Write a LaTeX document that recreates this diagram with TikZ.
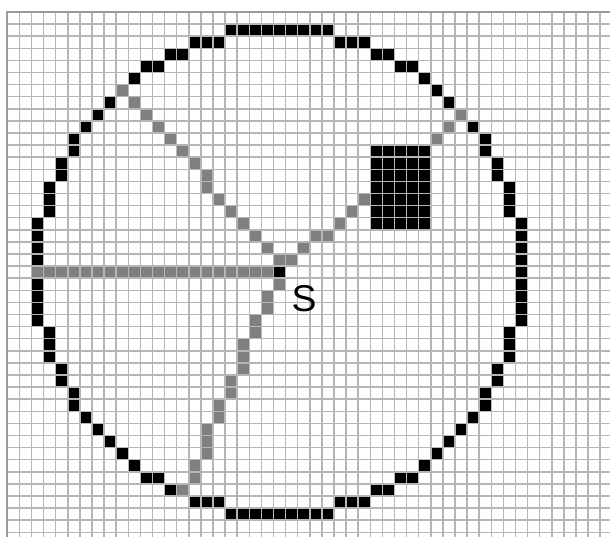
\documentclass[tikz,border=0pt]{standalone}
\usepackage{fontspec}
\setmainfont{Liberation Sans}
\definecolor{gridc}{RGB}{182,182,182}
\definecolor{rayc}{RGB}{128,128,128}
\begin{document}
\begin{tikzpicture}[x=9.075pt,y=9.075pt,
  wallcell/.style={fill=black},
  raycell/.style={fill=rayc},
  gridline/.style={draw=gridc,line width=1.1pt},
  borderline/.style={draw=gridc!85!black,line width=1.6pt},
  label/.style={font=\fontsize{28}{28}\selectfont,inner sep=0pt}]
\useasboundingbox (-0.603,0.992) rectangle (49.81,-43.31);
\fill[white] (-0.603,0.992) rectangle (49.81,-43.31);
\clip (-0.603,0.992) rectangle (49.81,-43.31);
% circle (midpoint, radius 20, centre cell 22/21)
\foreach \a/\b in {0/20,1/20,2/20,3/20,4/20,5/19,6/19,7/19,8/18,9/18,10/17,11/17,12/16,13/15,14/14}{
  \foreach \sx in {1,-1}{
    \foreach \sy in {1,-1}{
      \fill[wallcell] ({22+\sx*\a},{-(21+\sy*\b)}) rectangle ++(1,-1);
      \fill[wallcell] ({22+\sx*\b},{-(21+\sy*\a)}) rectangle ++(1,-1);
    }
  }
}
% obstacle
\fill[wallcell] (30,-11) rectangle (35,-18);
% rays
\foreach \c in {2,...,21}{\fill[raycell] (\c,-21) rectangle ++(1,-1);}
\foreach \c/\r in {22/20,21/19,20/18,19/17,18/16,17/15,16/14,16/13,15/12,14/11,13/10,12/9,11/8,10/7,9/6,
  23/20,24/19,25/18,26/18,27/17,28/16,29/15,35/10,36/9,37/8,
  22/22,21/23,21/24,20/25,20/26,19/27,19/28,19/29,18/30,18/31,17/32,17/33,16/34,16/35,16/36,15/37,15/38,14/39}{
  \fill[raycell] (\c,-\r) rectangle ++(1,-1);
}
% source
\fill[wallcell] (22,-21) rectangle ++(1,-1);
% grid
\draw[gridline,step=9.075pt] (0,0) grid (51,-45);
\draw[borderline] (0,-45) -- (0,0) -- (51,0);
\node[label] (s) at (24.52,-23.68) {S};
\end{tikzpicture}
\end{document}
